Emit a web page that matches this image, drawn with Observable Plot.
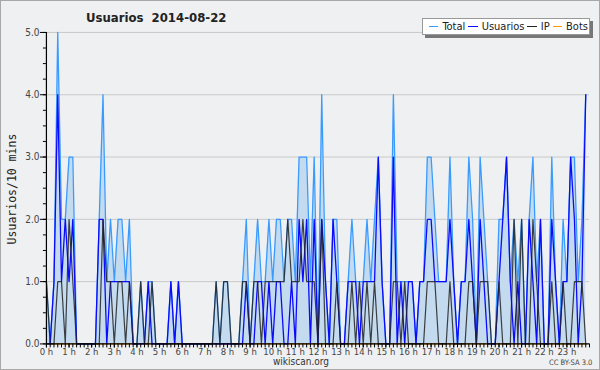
<!DOCTYPE html>
<html><head><meta charset="utf-8">
<script src="https://cdn.jsdelivr.net/npm/d3@7"></script>
<script src="https://cdn.jsdelivr.net/npm/@observablehq/plot@0.6"></script>
<style>
html,body{margin:0;padding:0;background:#fff;}
#wrap{position:relative;width:600px;height:370px;box-sizing:border-box;border:1px solid #a8a8a8;background:#eff0f1;overflow:hidden;font-family:"DejaVu Sans Condensed","Liberation Sans Narrow","Liberation Sans",sans-serif;}
#chart{position:absolute;left:-1px;top:-1px;}
.ov{position:absolute;white-space:nowrap;color:#222;line-height:1;}
#title{left:85px;top:10px;font-weight:bold;font-size:13px;}
#ylab{left:12px;top:188px;font-family:"DejaVu Sans Mono",monospace;font-size:11.5px;transform:translate(-50%,-50%) rotate(-90deg);}
#legend{left:421px;top:17px;width:168px;height:17px;background:#fff;border:1px solid #999;box-shadow:3px 3px 0 #777;font-size:11px;display:flex;align-items:center;padding-left:4px;box-sizing:border-box;}
#legend span.sw{display:inline-block;width:14px;height:0;border-top:1.5px solid;margin:0 4px 0 2px;vertical-align:middle;}
#legend span.it{margin-right:1px;}
#site{left:300px;top:356px;font-size:10px;transform:translateX(-50%);color:#333;}
#cc{left:548px;top:358px;font-size:7.5px;color:#444;}
</style></head>
<body><div id="wrap">
<div id="chart"></div>
<div id="title" class="ov">Usuarios&nbsp;&nbsp;2014-08-22</div>
<div id="ylab" class="ov">Usuarios/10 mins</div>
<div id="legend" class="ov"></div>
<div id="site" class="ov">wikiscan.org</div>
<div id="cc" class="ov">CC BY-SA 3.0</div>
</div>
<script>
const seriesNames = ["Total", "Usuarios", "IP", "Bots"];
const seriesColors = ["#3a9bff", "#0a0aff", "#222222", "#ff9900"];
const hourLabels = ["0 h","1 h","2 h","3 h","4 h","5 h","6 h","7 h","8 h","9 h","10 h","11 h","12 h","13 h","14 h","15 h","16 h","17 h","18 h","19 h","20 h","21 h","22 h","23 h"];
const yTickValues = [0, 1, 2, 3, 4, 5];

// one value per 10-minute slot (144 slots)
const usuarios = [
 0,0,1,4,1,2, 1,2,0,0,0,0, 0,0,2,2,0,1, 1,1,1,1,1,0,
 0,0,0,1,0,0, 0,0,0,1,0,1, 0,0,0,0,0,0, 0,0,0,0,0,0,
 0,0,0,0,0,1, 0,0,1,1,0,1, 0,1,1,0,0,1, 0,2,1,2,0,2,
 0,2,1,0,2,1, 0,0,1,1,1,0, 1,1,1,1,3,1, 0,0,3,0,1,0,
 1,1,0,1,1,2, 2,1,1,1,1,2, 1,0,1,1,2,1, 0,2,1,0,0,0,
 1,2,3,1,0,1, 0,0,2,1,0,2, 0,0,2,1,0,1, 1,3,2,0,1,4
];
const ip = [
 1,0,0,1,1,0, 2,1,0,0,0,0, 0,0,0,2,1,1, 0,1,1,0,1,0,
 0,1,0,0,1,0, 0,0,0,0,0,0, 0,0,0,0,0,0, 0,0,0,1,0,1,
 1,0,0,0,1,1, 0,1,1,0,1,1, 1,1,1,1,2,1, 1,1,2,1,1,1,
 0,2,0,0,0,1, 0,0,0,1,0,1, 0,1,0,1,0,0, 0,0,1,1,0,1,
 0,0,0,0,0,1, 1,1,0,0,0,1, 0,0,0,0,1,1, 0,1,1,1,0,0,
 1,0,0,0,2,0, 2,0,0,2,1,0, 0,0,1,0,0,1, 0,0,1,1,1,0
];
const total = [
 1,0,1,5,2,2, 3,3,0,0,0,0, 0,0,2,4,1,2, 1,2,2,1,2,0,
 0,1,0,1,1,0, 0,0,0,1,0,1, 0,0,0,0,0,0, 0,0,0,1,0,1,
 1,0,0,0,1,2, 0,1,2,1,1,2, 1,2,2,1,2,2, 1,3,3,3,1,3,
 0,4,1,0,2,2, 0,0,1,2,1,1, 1,2,1,2,3,1, 0,0,4,1,1,1,
 1,1,0,1,1,3, 3,2,1,1,1,3, 1,0,1,1,3,2, 0,3,2,1,0,0,
 2,2,3,1,2,1, 2,0,2,3,1,2, 0,0,3,1,0,2, 1,3,3,1,2,4
];
const bots = [
 0,0,0,0,0,0, 0,0,0,0,0,0, 0,0,0,0,0,0, 0,0,0,0,0,0,
 0,0,0,0,0,0, 0,0,0,0,0,0, 0,0,0,0,0,0, 0,0,0,0,0,0,
 0,0,0,0,0,0, 0,0,0,0,0,0, 0,0,0,0,0,0, 0,0,0,0,0,0,
 0,0,0,0,0,0, 0,0,0,0,0,0, 0,0,0,0,0,0, 0,0,0,0,0,0,
 0,0,0,0,0,0, 0,0,0,0,0,0, 0,0,0,0,0,0, 0,0,0,0,0,0,
 0,0,0,0,0,0, 0,0,0,0,0,0, 0,0,0,0,0,0, 0,0,0,0,0,0
];

const rows = total.map((t, i) => ({h: i / 6, total: t, usuarios: usuarios[i], ip: ip[i], bots: bots[i]}));
const hourTicks = d3.range(0, 24);
const minorX = d3.range(0, 145).map(i => i / 6);
const minorY = d3.range(0, 21).map(i => i / 4);
const FONT = "DejaVu Sans Condensed, Liberation Sans Narrow, Liberation Sans, sans-serif";

const chart = Plot.plot({
  width: 600, height: 370,
  marginLeft: 46, marginRight: 10, marginTop: 32, marginBottom: 26,
  style: {background: "transparent", fontFamily: FONT, fontSize: "9.5px", color: "#333", overflow: "visible"},
  x: {domain: [0, 24], label: null},
  y: {domain: [0, 5], label: null},
  marks: [
    Plot.ruleY([1, 2, 3, 4, 5], {stroke: "#c9c9c9", strokeWidth: 1}),
    Plot.areaY(rows, {x: "h", y: "total", fill: "#c4dbef"}),
    Plot.lineY(rows, {x: "h", y: "bots", stroke: seriesColors[3], strokeWidth: 1.2}),
    Plot.lineY(rows, {x: "h", y: "total", stroke: seriesColors[0], strokeWidth: 1.3}),
    Plot.lineY(rows, {x: "h", y: "usuarios", stroke: seriesColors[1], strokeWidth: 1.3}),
    Plot.lineY(rows, {x: "h", y: "ip", stroke: seriesColors[2], strokeWidth: 1.2, strokeOpacity: 0.85}),
    Plot.ruleX([0], {stroke: "#000", strokeWidth: 1.2}),
    Plot.ruleY([0], {stroke: "#000", strokeWidth: 1.2}),
    Plot.axisY({ticks: minorY, tickSize: 3, tickFormat: () => "", stroke: "#000", label: null}),
    Plot.axisY({ticks: yTickValues, tickSize: 6, tickPadding: 1, tickFormat: d => d.toFixed(1), fill: "#444", fontSize: 10, label: null, stroke: "#000"}),
    Plot.axisX({ticks: minorX, tickSize: 4, tickFormat: () => "", stroke: "#000", label: null}),
    Plot.axisX({ticks: hourTicks, tickSize: 4, tickPadding: 0, tickFormat: d => hourLabels[d], fill: "#444", fontSize: 9.5, label: null, stroke: "#000"})
  ]
});
document.getElementById("chart").appendChild(chart);

const lg = document.getElementById("legend");
seriesNames.forEach((n, k) => {
  const sw = document.createElement("span"); sw.className = "sw"; sw.style.borderTopColor = seriesColors[k];
  const it = document.createElement("span"); it.className = "it"; it.textContent = n;
  lg.appendChild(sw); lg.appendChild(it);
});
</script>
</body></html>
